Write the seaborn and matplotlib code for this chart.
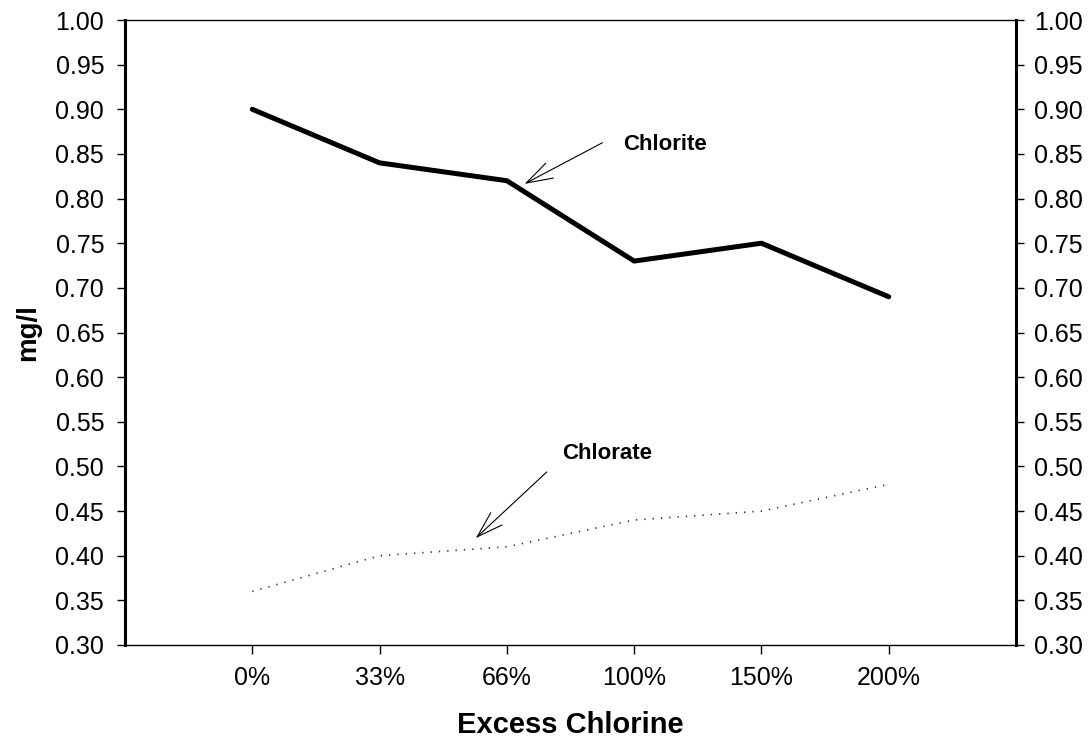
import matplotlib
matplotlib.use("Agg")
import matplotlib.pyplot as plt
import seaborn as sns
import pandas as pd

categories = ["0%", "33%", "66%", "100%", "150%", "200%"]
chlorite = [0.90, 0.84, 0.82, 0.73, 0.75, 0.69]
chlorate = [0.36, 0.40, 0.41, 0.44, 0.45, 0.48]
y_ticks = [0.30, 0.35, 0.40, 0.45, 0.50, 0.55, 0.60, 0.65, 0.70, 0.75, 0.80, 0.85, 0.90, 0.95, 1.00]

sns.set_style("white")
plt.rcParams['font.family'] = ['Liberation Sans', 'DejaVu Sans']
plt.rcParams['text.color'] = 'black'
plt.rcParams['axes.labelcolor'] = 'black'
plt.rcParams['xtick.color'] = 'black'
plt.rcParams['ytick.color'] = 'black'

df = pd.DataFrame({"Excess Chlorine": categories, "Chlorite": chlorite, "Chlorate": chlorate})

fig = plt.figure(figsize=(10.91, 7.40), dpi=100)
ax = fig.add_axes([125/1091, 95/740, (1016-125)/1091, (645-20)/740])

sns.lineplot(data=df, x="Excess Chlorine", y="Chlorite", ax=ax, color="black", lw=3.6, sort=False)
sns.lineplot(data=df, x="Excess Chlorine", y="Chlorate", ax=ax, color="#333333", lw=1.2,
             linestyle=(0, (0.8, 4.2)), sort=False)

ax.set_xlim(-1, 6)
ax.set_ylim(0.30, 1.00)
ax.set_yticks(y_ticks)
ax.set_yticklabels([f"{v:.2f}" for v in y_ticks], fontsize=18)
ax.set_xticks(range(len(categories)))
ax.set_xticklabels(categories, fontsize=18)
ax.tick_params(axis='y', direction='out', length=6, width=1, pad=9, left=True)
ax.tick_params(axis='x', direction='out', length=6.5, width=1, pad=8.5, bottom=True)
ax.set_xlabel("Excess Chlorine", fontsize=21, fontweight='bold', labelpad=15)
ax.set_ylabel("mg/l", fontsize=20, fontweight='bold', labelpad=10)

for s in ["top", "bottom"]:
    ax.spines[s].set_linewidth(1.0)
    ax.spines[s].set_color("black")
ax.spines["left"].set_linewidth(2.2)
ax.spines["left"].set_color("black")
ax.spines["right"].set_visible(False)

ax2 = ax.twinx()
ax2.set_ylim(0.30, 1.00)
ax2.set_yticks(y_ticks)
ax2.set_yticklabels([f"{v:.2f}" for v in y_ticks], fontsize=18)
ax2.tick_params(axis='y', direction='out', length=6, width=1, pad=7, right=True)
ax2.spines["right"].set_linewidth(2.2)
ax2.spines["right"].set_color("black")
for s in ["top", "bottom", "left"]:
    ax2.spines[s].set_visible(False)

arrow_style = "->,head_length=1.9,head_width=0.6"
ax.annotate("", xy=(2.12, 0.815), xytext=(2.77, 0.864),
            arrowprops=dict(arrowstyle=arrow_style, lw=0.8, color="black", mutation_scale=10))
ax.text(3.24, 0.86, "Chlorite", fontsize=16, fontweight='bold', ha='center', va='center')

ax.annotate("", xy=(1.74, 0.4176), xytext=(2.33, 0.496),
            arrowprops=dict(arrowstyle=arrow_style, lw=0.8, color="black", mutation_scale=10))
ax.text(2.79, 0.515, "Chlorate", fontsize=16, fontweight='bold', ha='center', va='center')

fig.savefig("out.png", dpi=100)
